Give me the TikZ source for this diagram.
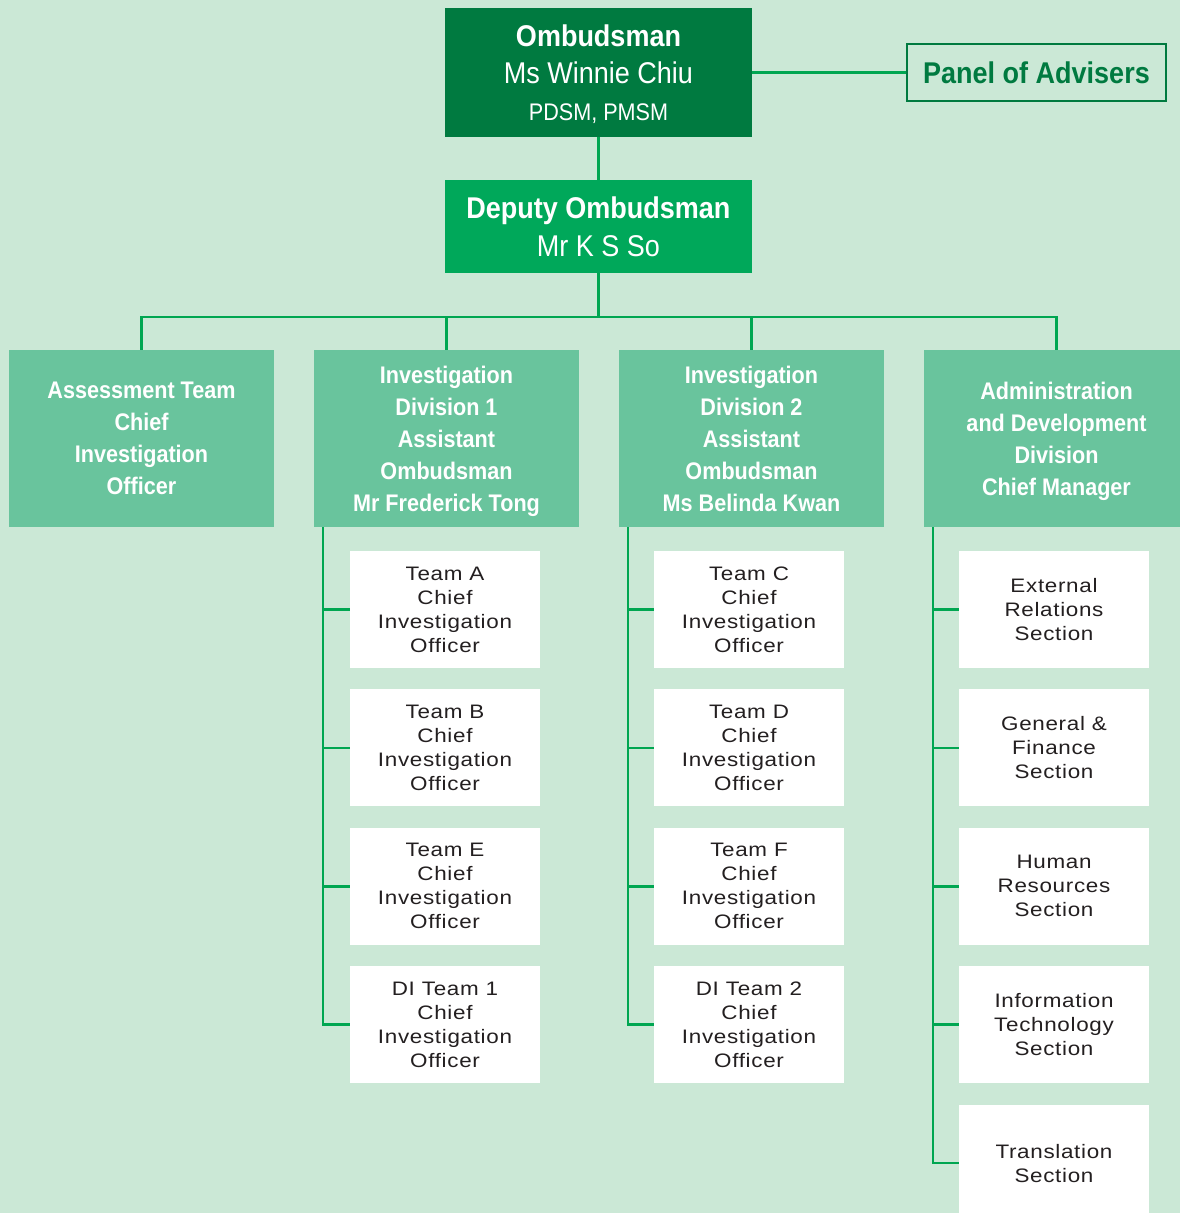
\documentclass[tikz,border=0pt]{standalone}
\usepackage{fontspec}
\setmainfont{Liberation Sans}
\newfontfamily\condfont[FakeStretch=0.9]{Liberation Sans}
\newfontfamily\unitfont[FakeStretch=1.15,LetterSpace=3.5]{Liberation Sans}
\usepackage{tikz}
\usetikzlibrary{positioning}
\definecolor{pageBg}{HTML}{CBE8D6}
\definecolor{ombGreen}{HTML}{007A40}
\definecolor{depGreen}{HTML}{00A85A}
\definecolor{divGreen}{HTML}{69C49D}
\definecolor{lineGreen}{HTML}{00A651}
\definecolor{unitText}{HTML}{231F20}
\tikzset{
  topbox/.style={
    rectangle, inner sep=0pt, minimum width=307pt, align=center,
    text=white, font=\condfont\fontsize{30}{37}\selectfont,
  },
  divbox/.style={
    rectangle, fill=divGreen, inner sep=0pt, minimum width=265pt,
    minimum height=177pt, align=center, text=white,
    font=\condfont\bfseries\fontsize{24}{32}\selectfont,
  },
  unitbox/.style={
    rectangle, fill=white, inner sep=0pt, minimum width=190pt,
    minimum height=117pt, align=center, text=unitText,
    font=\unitfont\fontsize{19.5}{24}\selectfont,
  },
  orgline/.style={
    draw=lineGreen, line width=2.5pt,
  },
}

\begin{document}
\begin{tikzpicture}[x=1pt, y=-1pt, node distance=21pt]

\fill[pageBg] (0,0) rectangle (1180,1213);
\useasboundingbox (0,0) rectangle (1180,1213);

% top of the chart
\node[topbox, fill=ombGreen, minimum height=129pt] (omb) at (598.5,72.5) {%
  {\bfseries Ombudsman}\\
  Ms Winnie Chiu\\
  \smash{\fontsize{24}{29}\selectfont PDSM, PMSM}%
};
\node[topbox, fill=depGreen, minimum height=93pt, font=\condfont\fontsize{30}{38}\selectfont]
  (dep) at (598.5,226.5) {%
  {\bfseries Deputy Ombudsman}\\
  Mr K S So%
};
\node[rectangle, draw=ombGreen, line width=2.5pt, inner sep=0pt,
      minimum width=259pt, minimum height=57pt, text=ombGreen,
      font=\condfont\bfseries\fontsize{30}{36}\selectfont]
  (panel) at (1036.5,72.5) {Panel of Advisers};

% divisions
\node[divbox] (assess) at (141.5,438.5) {Assessment Team\\Chief\\Investigation\\Officer};
\node[divbox] (inv1) at (446.5,438.5) {Investigation\\Division 1\\Assistant\\Ombudsman\\\smash{Mr Frederick Tong}};
\node[divbox] (inv2) at (751.5,438.5) {Investigation\\Division 2\\Assistant\\Ombudsman\\\smash{Ms Belinda Kwan}};
\node[divbox] (admin) at (1056.5,438.5) {Administration\\and Development\\Division\\\smash{Chief Manager}};

% teams under division 1
\node[unitbox] (teamA) at (445,609.5) {Team A\\Chief\\Investigation\\Officer};
\node[unitbox, below=of teamA] (teamB) {Team B\\Chief\\Investigation\\Officer};
\node[unitbox, below=of teamB] (teamE) {Team E\\Chief\\Investigation\\Officer};
\node[unitbox, below=of teamE] (teamDIa) {DI Team 1\\Chief\\Investigation\\Officer};

% teams under division 2
\node[unitbox] (teamC) at (749,609.5) {Team C\\Chief\\Investigation\\Officer};
\node[unitbox, below=of teamC] (teamD) {Team D\\Chief\\Investigation\\Officer};
\node[unitbox, below=of teamD] (teamF) {Team F\\Chief\\Investigation\\Officer};
\node[unitbox, below=of teamF] (teamDIb) {DI Team 2\\Chief\\Investigation\\Officer};

% sections under administration
\node[unitbox] (extRel) at (1054,609.5) {External\\Relations\\Section};
\node[unitbox, below=of extRel] (genFin) {General \&\\Finance\\Section};
\node[unitbox, below=of genFin] (humRes) {Human\\Resources\\Section};
\node[unitbox, below=of humRes] (infoTech) {Information\\Technology\\Section};
\node[unitbox, below=of infoTech] (transl) {Translation\\Section};

% connectors
\coordinate (bar) at (598.5,317);
\draw[orgline] (omb) -- (dep);
\draw[orgline] (omb) -- (panel);
\draw[orgline] (dep) -- (bar);
\draw[orgline] (assess.north) |- (bar) -| (admin.north);
\draw[orgline] (inv1.north) -- (inv1.north |- bar);
\draw[orgline] (inv2.north) -- (inv2.north |- bar);

\foreach \unit in {teamA, teamB, teamE, teamDIa}
  \draw[orgline] ([xshift=9pt]inv1.south west) |- (\unit.west);
\foreach \unit in {teamC, teamD, teamF, teamDIb}
  \draw[orgline] ([xshift=9pt]inv2.south west) |- (\unit.west);
\foreach \unit in {extRel, genFin, humRes, infoTech, transl}
  \draw[orgline] ([xshift=9pt]admin.south west) |- (\unit.west);

\end{tikzpicture}
\end{document}
